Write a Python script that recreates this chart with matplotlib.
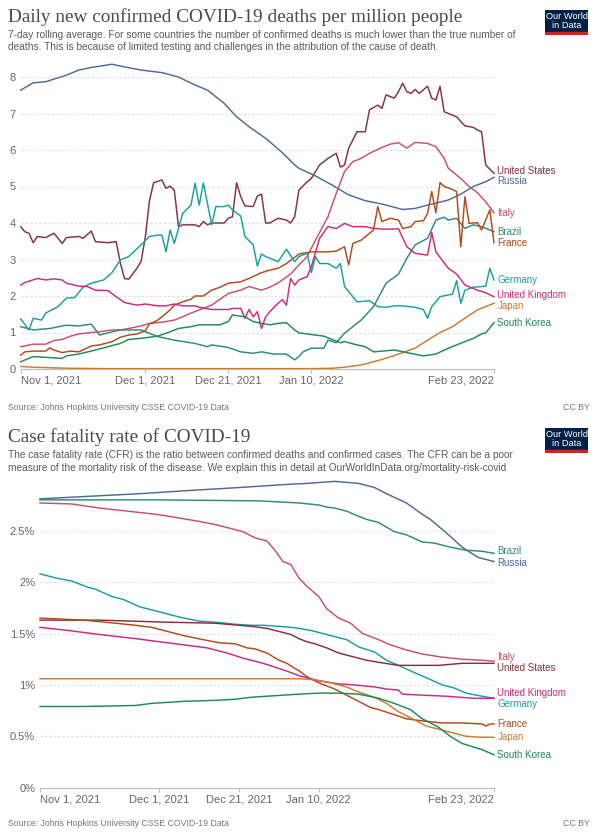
import numpy as np
import matplotlib.pyplot as plt
from matplotlib.patches import Rectangle

W, H = 600, 835
START = np.datetime64('2021-11-01')

tick_dates = ['2021-11-01', '2021-12-01', '2021-12-21', '2022-01-10', '2022-02-23']
tick_labels = ['Nov 1, 2021', 'Dec 1, 2021', 'Dec 21, 2021', 'Jan 10, 2022', 'Feb 23, 2022']

colors = {
    'United States': '#883039',
    'Russia': '#4C6A9C',
    'Italy': '#C9506A',
    'Brazil': '#2F8A78',
    'France': '#B14A1A',
    'Germany': '#18A0A0',
    'United Kingdom': '#CC2A7E',
    'Japan': '#D07A30',
    'South Korea': '#1E8A55',
}

# ---- daily deaths per million (days since Nov 1, 2021) ----
deaths_us_days = [0, 1, 2, 3, 4, 6, 8, 10, 11, 14, 15, 17, 18, 21, 23, 24, 25, 26, 28, 29, 30, 31, 32, 34, 35,
                  36, 37, 38, 39, 42, 43, 44, 45, 46, 49, 50, 51, 52, 53, 54, 56, 57, 58, 59, 60, 62, 64, 65,
                  66, 67, 69, 70, 72, 74, 76, 77, 78, 79, 81, 83, 84, 86, 87, 88, 90, 91, 92, 93, 94, 95, 96,
                  98, 99, 100, 101, 102, 103, 105, 106, 107, 109, 110, 111, 112, 114]
deaths_us = [3.9, 3.76, 3.72, 3.46, 3.63, 3.6, 3.72, 3.44, 3.6, 3.63, 3.58, 3.78, 3.49, 3.46, 3.49, 2.9, 2.48,
             2.46, 2.76, 2.95, 3.6, 4.6, 5.1, 5.18, 4.95, 5.01, 4.9, 3.9, 3.95, 3.95, 3.9, 4.04, 3.95, 4.0, 4.0,
             4.13, 4.17, 5.1, 4.72, 4.47, 4.45, 4.74, 4.79, 4.0, 4.0, 4.13, 4.08, 4.0, 4.17, 4.9, 5.13, 5.22,
             5.59, 5.77, 5.91, 5.53, 5.59, 6.05, 6.5, 6.5, 7.1, 7.23, 7.14, 7.51, 7.42, 7.6, 7.83, 7.6, 7.55,
             7.66, 7.55, 7.75, 7.42, 7.37, 7.74, 7.05, 7.0, 6.91, 6.78, 6.66, 6.62, 6.55, 6.5, 5.59, 5.36]

deaths_ru_days = [0, 3, 6, 11, 14, 17, 22, 24, 29, 34, 38, 42, 45, 49, 52, 55, 59, 63, 66, 67, 71, 75, 79, 83,
                  87, 92, 95, 98, 103, 106, 109, 112, 114]
deaths_ru = [7.64, 7.84, 7.87, 8.05, 8.19, 8.26, 8.35, 8.3, 8.19, 8.12, 8.0, 7.78, 7.64, 7.28, 6.91, 6.64, 6.32,
             5.93, 5.59, 5.5, 5.29, 5.04, 4.77, 4.61, 4.52, 4.37, 4.4, 4.49, 4.63, 4.79, 5.0, 5.13, 5.25]

deaths_it_days = [0, 3, 6, 8, 10, 12, 14, 17, 19, 22, 24, 26, 29, 31, 33, 35, 37, 39, 41, 43, 46, 48, 50, 53,
                  55, 58, 60, 62, 65, 67, 69, 71, 74, 76, 78, 80, 82, 84, 87, 89, 91, 93, 95, 98, 100, 102,
                  103, 106, 108, 110, 112, 114]
deaths_it = [0.61, 0.68, 0.68, 0.78, 0.81, 0.9, 0.96, 1.0, 1.02, 1.07, 1.07, 1.11, 1.18, 1.25, 1.27, 1.3, 1.34,
             1.43, 1.53, 1.62, 1.75, 1.91, 2.07, 2.16, 2.26, 2.16, 2.24, 2.36, 2.6, 2.85, 3.08, 3.53, 4.17,
             4.81, 5.41, 5.68, 5.77, 5.91, 6.07, 6.16, 6.2, 6.05, 6.21, 6.18, 6.09, 5.77, 5.5, 5.22, 5.0,
             4.83, 4.58, 4.28]

deaths_br_days = [0, 3, 7, 11, 14, 17, 19, 21, 24, 29, 30, 33, 37, 42, 45, 46, 50, 53, 56, 58, 61, 64, 66, 67,
                  68, 70, 73, 74, 76, 78, 82, 85, 88, 91, 93, 95, 98, 100, 102, 103, 105, 107, 109, 111, 114]
deaths_br = [1.16, 1.07, 1.11, 1.2, 1.18, 1.23, 0.93, 0.99, 1.07, 1.07, 1.02, 0.89, 0.79, 0.7, 0.61, 0.66,
             0.59, 0.47, 0.43, 0.47, 0.41, 0.41, 0.25, 0.34, 0.47, 0.57, 0.57, 0.79, 0.72, 0.98, 1.34, 1.71,
             2.35, 2.6, 3.03, 3.4, 3.58, 4.08, 4.16, 4.08, 4.13, 3.85, 3.95, 3.9, 3.76]

deaths_fr_days = [0, 1, 3, 6, 7, 8, 10, 12, 14, 17, 19, 22, 24, 26, 28, 30, 31, 33, 34, 36, 37, 39, 41, 42,
                  44, 46, 48, 50, 53, 55, 58, 60, 62, 64, 66, 67, 70, 74, 76, 78, 79, 80, 82, 85, 86, 87, 89,
                  91, 92, 94, 95, 97, 98, 99, 100, 101, 102, 104, 105, 106, 107, 108, 110, 111, 113, 114]
deaths_fr = [0.38, 0.47, 0.49, 0.49, 0.58, 0.52, 0.45, 0.49, 0.47, 0.63, 0.66, 0.75, 0.87, 0.93, 0.96, 1.05,
             1.23, 1.34, 1.43, 1.62, 1.75, 1.84, 1.91, 2.0, 2.0, 2.16, 2.24, 2.35, 2.39, 2.48, 2.64, 2.71,
             2.76, 2.89, 3.06, 3.15, 3.21, 3.21, 3.23, 3.35, 2.85, 3.44, 3.53, 3.81, 4.45, 4.04, 4.13, 4.08,
             3.85, 3.9, 4.04, 4.06, 4.26, 4.86, 4.28, 5.11, 5.0, 4.92, 4.86, 3.35, 4.72, 3.99, 4.01, 3.81,
             4.36, 3.46]

deaths_de_days = [0, 2, 3, 5, 6, 9, 11, 13, 15, 17, 20, 22, 24, 26, 29, 31, 33, 34, 35, 36, 37, 39, 41, 42,
                  43, 44, 46, 47, 49, 50, 51, 53, 54, 56, 57, 58, 59, 61, 62, 64, 66, 67, 69, 70, 71, 72, 74,
                  76, 77, 78, 81, 84, 86, 88, 90, 92, 95, 97, 98, 99, 101, 103, 104, 105, 106, 107, 109, 112,
                  113, 114]
deaths_de = [1.37, 1.07, 1.39, 1.34, 1.53, 1.71, 1.94, 1.96, 2.24, 2.35, 2.44, 2.64, 2.99, 3.08, 3.4, 3.63,
             3.67, 3.67, 3.21, 3.81, 3.44, 4.26, 4.49, 5.09, 4.49, 5.1, 3.95, 4.45, 4.45, 4.49, 4.36, 4.19,
             3.63, 3.4, 2.82, 3.15, 3.08, 2.99, 2.94, 3.28, 2.94, 3.08, 3.17, 2.64, 3.08, 2.89, 2.89, 2.76,
             2.89, 2.26, 1.84, 1.87, 1.71, 1.69, 1.73, 1.73, 1.69, 1.63, 1.39, 1.71, 1.98, 2.03, 2.05, 2.42,
             1.8, 2.16, 2.24, 2.27, 2.76, 2.44]

deaths_uk_days = [0, 1, 4, 6, 8, 10, 11, 14, 16, 18, 21, 23, 25, 28, 30, 33, 35, 37, 39, 42, 43, 46, 50, 51,
                  53, 54, 55, 56, 57, 58, 59, 60, 62, 63, 64, 65, 66, 67, 69, 70, 72, 74, 76, 78, 80, 83, 85,
                  88, 91, 93, 95, 98, 99, 100, 103, 105, 107, 110, 112, 114]
deaths_uk = [2.3, 2.37, 2.48, 2.44, 2.47, 2.44, 2.35, 2.27, 2.26, 2.16, 2.15, 1.98, 1.82, 1.75, 1.78, 1.73,
             1.73, 1.78, 1.73, 1.73, 1.69, 1.63, 1.63, 1.66, 1.66, 1.39, 1.63, 1.43, 1.57, 1.11, 1.43, 1.57,
             1.8, 1.9, 1.75, 2.48, 2.3, 2.44, 2.53, 2.8, 3.58, 3.9, 3.85, 3.99, 3.9, 3.9, 3.85, 3.83, 3.84,
             3.35, 3.17, 3.12, 3.74, 3.21, 2.76, 2.6, 2.3, 2.16, 2.09, 1.98]

deaths_jp_days = [0, 3, 8, 12, 20, 40, 60, 70, 75, 78, 82, 87, 91, 95, 98, 101, 104, 107, 110, 112, 114]
deaths_jp = [0.07, 0.05, 0.03, 0.02, 0.01, 0.01, 0.01, 0.01, 0.02, 0.05, 0.11, 0.26, 0.41, 0.57, 0.79, 1.0,
             1.16, 1.39, 1.62, 1.71, 1.8]

deaths_kr_days = [0, 3, 6, 10, 11, 14, 18, 21, 24, 26, 29, 31, 33, 36, 38, 41, 43, 48, 50, 51, 54, 56, 58, 60,
                  62, 64, 66, 67, 69, 73, 75, 77, 78, 81, 83, 85, 90, 93, 97, 100, 103, 107, 109, 111, 112, 114]
deaths_kr = [0.2, 0.34, 0.32, 0.29, 0.36, 0.41, 0.52, 0.61, 0.7, 0.81, 0.84, 0.87, 0.9, 1.02, 1.11, 1.16, 1.21,
             1.21, 1.3, 1.48, 1.43, 1.3, 1.25, 1.21, 1.25, 1.27, 1.07, 0.99, 0.96, 0.9, 0.81, 0.72, 0.75, 0.66,
             0.61, 0.47, 0.52, 0.45, 0.36, 0.41, 0.57, 0.75, 0.84, 0.96, 0.99, 1.27]

deaths_yticks = [0, 1, 2, 3, 4, 5, 6, 7, 8]
deaths_ylabels = ['0', '1', '2', '3', '4', '5', '6', '7', '8']

# ---- case fatality rate, % ----
cfr_ru_days = [0, 15, 25, 37, 50, 62, 67, 74, 80, 84, 87, 92, 96, 98, 102, 106, 110, 114]
cfr_ru = [2.81, 2.84, 2.86, 2.89, 2.92, 2.95, 2.96, 2.98, 2.96, 2.92, 2.86, 2.77, 2.66, 2.61, 2.48, 2.34, 2.24, 2.2]

cfr_br_days = [0, 30, 55, 60, 65, 70, 72, 74, 77, 80, 82, 85, 89, 92, 96, 99, 103, 107, 111, 114]
cfr_br = [2.8, 2.8, 2.79, 2.78, 2.77, 2.75, 2.73, 2.72, 2.69, 2.64, 2.61, 2.58, 2.49, 2.46, 2.39, 2.38, 2.34,
          2.31, 2.3, 2.28]

cfr_it_days = [0, 8, 15, 22, 29, 34, 40, 44, 49, 51, 54, 57, 59, 61, 63, 65, 67, 70, 72, 75, 78, 81, 85, 88,
               92, 96, 101, 106, 111, 114]
cfr_it = [2.77, 2.76, 2.72, 2.69, 2.66, 2.63, 2.59, 2.56, 2.51, 2.49, 2.43, 2.4, 2.31, 2.2, 2.17, 2.04, 1.96,
          1.86, 1.74, 1.65, 1.6, 1.5, 1.44, 1.39, 1.34, 1.3, 1.27, 1.25, 1.24, 1.23]

cfr_de_days = [0, 4, 8, 12, 14, 18, 21, 25, 28, 32, 35, 40, 44, 49, 53, 56, 60, 63, 65, 68, 70, 73, 77, 80, 84,
               87, 90, 94, 97, 101, 104, 107, 111, 114]
cfr_de = [2.08, 2.04, 2.01, 1.95, 1.93, 1.86, 1.83, 1.76, 1.73, 1.69, 1.66, 1.62, 1.61, 1.59, 1.58, 1.58, 1.57,
          1.56, 1.55, 1.53, 1.51, 1.48, 1.44, 1.37, 1.32, 1.24, 1.19, 1.12, 1.07, 1.0, 0.97, 0.92, 0.89, 0.87]

cfr_us_days = [0, 15, 32, 44, 53, 57, 60, 63, 65, 67, 69, 72, 75, 79, 82, 85, 90, 95, 100, 106, 114]
cfr_us = [1.63, 1.63, 1.61, 1.6, 1.57, 1.55, 1.52, 1.49, 1.45, 1.42, 1.4, 1.36, 1.31, 1.27, 1.24, 1.22, 1.19,
          1.19, 1.19, 1.21, 1.21]

cfr_fr_days = [0, 11, 19, 24, 28, 32, 36, 41, 45, 49, 52, 54, 57, 60, 62, 64, 65, 67, 70, 74, 77, 80, 83, 85,
               89, 92, 96, 101, 106, 111, 112, 113, 114]
cfr_fr = [1.65, 1.63, 1.6, 1.58, 1.56, 1.52, 1.48, 1.44, 1.41, 1.4, 1.36, 1.35, 1.31, 1.24, 1.21, 1.16, 1.14,
          1.08, 1.02, 0.96, 0.9, 0.84, 0.78, 0.76, 0.71, 0.67, 0.65, 0.63, 0.63, 0.62, 0.6, 0.62, 0.62]

cfr_uk_days = [0, 7, 15, 24, 30, 36, 42, 47, 51, 56, 60, 63, 65, 67, 70, 75, 79, 84, 87, 90, 91, 96, 102, 109, 114]
cfr_uk = [1.56, 1.53, 1.49, 1.45, 1.42, 1.39, 1.36, 1.31, 1.26, 1.21, 1.16, 1.12, 1.09, 1.07, 1.04, 1.01, 1.0,
          0.98, 0.96, 0.95, 0.91, 0.9, 0.89, 0.87, 0.87]

cfr_jp_days = [0, 30, 60, 65, 69, 73, 77, 80, 84, 87, 90, 94, 97, 101, 104, 107, 111, 114]
cfr_jp = [1.06, 1.06, 1.06, 1.06, 1.05, 1.02, 0.98, 0.93, 0.88, 0.82, 0.74, 0.66, 0.6, 0.56, 0.53, 0.5, 0.49, 0.49]

cfr_kr_days = [0, 11, 24, 28, 36, 44, 49, 53, 57, 61, 65, 70, 75, 80, 85, 89, 93, 96, 100, 103, 106, 111, 114]
cfr_kr = [0.79, 0.79, 0.8, 0.82, 0.84, 0.85, 0.86, 0.88, 0.89, 0.9, 0.91, 0.92, 0.92, 0.91, 0.87, 0.82, 0.76,
          0.67, 0.59, 0.5, 0.43, 0.37, 0.32]

cfr_yticks = [0, 0.5, 1, 1.5, 2, 2.5]
cfr_ylabels = ['0%', '0.5%', '1%', '1.5%', '2%', '2.5%']

# end-of-line label positions (de-overlapped, in data units)
deaths_label_y = {'United States': 5.43, 'Russia': 5.15, 'Italy': 4.27, 'Brazil': 3.74, 'France': 3.46,
                  'Germany': 2.44, 'United Kingdom': 2.03, 'Japan': 1.73, 'South Korea': 1.25}
cfr_label_y = {'Brazil': 2.3, 'Russia': 2.19, 'Italy': 1.27, 'United States': 1.16, 'United Kingdom': 0.92,
               'Germany': 0.81, 'France': 0.62, 'Japan': 0.49, 'South Korea': 0.32}

deaths_series = [
    ('United States', deaths_us_days, deaths_us), ('Russia', deaths_ru_days, deaths_ru),
    ('Italy', deaths_it_days, deaths_it), ('Brazil', deaths_br_days, deaths_br),
    ('France', deaths_fr_days, deaths_fr), ('Germany', deaths_de_days, deaths_de),
    ('United Kingdom', deaths_uk_days, deaths_uk), ('Japan', deaths_jp_days, deaths_jp),
    ('South Korea', deaths_kr_days, deaths_kr),
]
cfr_series = [
    ('Russia', cfr_ru_days, cfr_ru), ('Brazil', cfr_br_days, cfr_br), ('Italy', cfr_it_days, cfr_it),
    ('Germany', cfr_de_days, cfr_de), ('United States', cfr_us_days, cfr_us), ('France', cfr_fr_days, cfr_fr),
    ('United Kingdom', cfr_uk_days, cfr_uk), ('Japan', cfr_jp_days, cfr_jp),
    ('South Korea', cfr_kr_days, cfr_kr),
]

SANS = ['Liberation Sans', 'DejaVu Sans']
SERIF = ['Liberation Serif', 'DejaVu Serif']


def px_box(left, top, right, bottom):
    return [left / W, 1 - bottom / H, (right - left) / W, (bottom - top) / H]


def ftext(x, y, s, **kw):
    fig.text(x / W, 1 - y / H, s, **kw)


def logo(top):
    ax = fig.add_axes(px_box(545, top, 588, top + 25))
    ax.set_xlim(0, 1)
    ax.set_ylim(0, 1)
    ax.axis('off')
    ax.add_patch(Rectangle((0, 0.12), 1, 0.88, color='#002147'))
    ax.add_patch(Rectangle((0, 0), 1, 0.12, color='#CE261E'))
    ax.text(0.5, 0.74, 'Our World', color='white', ha='center', va='center', fontsize=6.7, family=SANS)
    ax.text(0.5, 0.38, 'in Data', color='white', ha='center', va='center', fontsize=6.7, family=SANS)


def panel(box, series, ylim_top, yticks, ylabels, label_y):
    ax = fig.add_axes(box)
    for name, days, vals in series:
        x = START + np.array(days, dtype='timedelta64[D]')
        ax.plot(x, vals, color=colors[name], lw=1.05, solid_joinstyle='round', clip_on=False)
    for name, yv in label_y.items():
        ax.annotate(name, xy=(1, yv), xycoords=('axes fraction', 'data'), xytext=(2.5, 0),
                    textcoords='offset points', va='center', ha='left', fontsize=7.0,
                    color=colors[name], family=SANS, annotation_clip=False)
    ax.set_xlim(START, START + np.timedelta64(114, 'D'))
    ax.set_ylim(0, ylim_top)
    ax.set_yticks(yticks)
    ax.set_yticklabels(ylabels)
    ax.set_xticks(np.array(tick_dates, dtype='datetime64[D]'))
    ax.set_xticklabels(tick_labels)
    labs = ax.get_xticklabels()
    labs[0].set_ha('left')
    labs[-1].set_ha('right')
    for s in ['top', 'right', 'left']:
        ax.spines[s].set_visible(False)
    ax.spines['bottom'].set_color('#bbbbbb')
    ax.tick_params(axis='x', length=3, color='#bbbbbb', labelcolor='#666666', labelsize=8.0, pad=2)
    ax.tick_params(axis='y', length=0, labelcolor='#666666', labelsize=8.0, pad=3.5)
    for lab in ax.get_xticklabels() + ax.get_yticklabels():
        lab.set_family(SANS)
    ax.yaxis.grid(True, linestyle=(0, (2, 2)), color='#dddddd', lw=0.8)
    ax.set_axisbelow(True)
    return ax


fig = plt.figure(figsize=(W / 100, H / 100), dpi=100)

# ---- top chart ----
ftext(8, 17, 'Daily new confirmed COVID-19 deaths per million people', fontsize=13.9, family=SERIF,
      color='#4a4a4a', va='center')
ftext(8, 35, '7-day rolling average. For some countries the number of confirmed deaths is much lower than the true number of',
      fontsize=7.3, family=SANS, color='#5b5b5b', va='center')
ftext(8, 47, 'deaths. This is because of limited testing and challenges in the attribution of the cause of death.',
      fontsize=7.3, family=SANS, color='#5b5b5b', va='center')
logo(10)
panel(px_box(20.7, 62, 494, 369), deaths_series, (369 - 62) / 36.5, deaths_yticks, deaths_ylabels, deaths_label_y)
ftext(8, 407, 'Source: Johns Hopkins University CSSE COVID-19 Data', fontsize=6.3, family=SANS, color='#777777',
      va='center')
ftext(590, 407, 'CC BY', fontsize=6.3, family=SANS, color='#777777', va='center', ha='right')

# ---- bottom chart ----
ftext(8, 437, 'Case fatality rate of COVID-19', fontsize=13.9, family=SERIF, color='#4a4a4a', va='center')
ftext(8, 455, 'The case fatality rate (CFR) is the ratio between confirmed deaths and confirmed cases. The CFR can be a poor',
      fontsize=7.3, family=SANS, color='#5b5b5b', va='center')
ftext(8, 468, 'measure of the mortality risk of the disease. We explain this in detail at OurWorldInData.org/mortality-risk-covid',
      fontsize=7.3, family=SANS, color='#5b5b5b', va='center')
logo(428)
panel(px_box(40, 478, 494, 787.7), cfr_series, (787.7 - 478) / 102.8, cfr_yticks, cfr_ylabels, cfr_label_y)
ftext(8, 823, 'Source: Johns Hopkins University CSSE COVID-19 Data', fontsize=6.3, family=SANS, color='#777777',
      va='center')
ftext(590, 823, 'CC BY', fontsize=6.3, family=SANS, color='#777777', va='center', ha='right')

fig.savefig('out.png', dpi=100, facecolor='white')
